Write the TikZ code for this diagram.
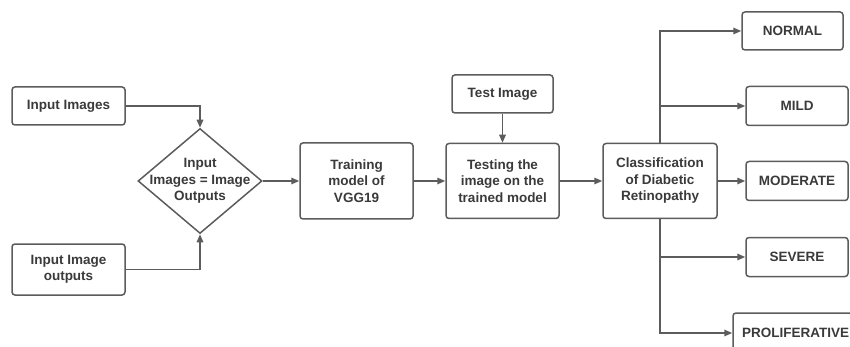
\documentclass[tikz,border=0pt]{standalone}
\usepackage{fontspec}
\setmainfont{Liberation Sans}
\usetikzlibrary{shapes.geometric,arrows.meta}
\definecolor{linegray}{HTML}{5C5C5C}
\definecolor{textgray}{HTML}{3A3A3A}

\begin{document}
\begin{tikzpicture}[x=1pt,y=-1pt,
    box/.style={draw=linegray,line width=1.5pt,rounded corners=3pt,align=center,
        text=textgray,font=\fontsize{13.5}{16.5}\selectfont\bfseries,inner sep=0pt},
    decision/.style={draw=linegray,line width=1.5pt,diamond,inner sep=0pt,
        minimum width=124pt,minimum height=105pt},
    flow/.style={draw=linegray,line width=1.5pt,-{Triangle[length=8pt,width=6.5pt]}}]
        \useasboundingbox (0,0) rectangle (850,347);
        \node[box,minimum width=113pt,minimum height=38pt] (inimg) at (68.5,106) {Input Images};
        \node[box,minimum width=113pt,minimum height=51pt] (inout) at (68.5,269.5) {Input Image\\outputs};
        \node[decision] (check) at (200,181) {};
        \node[box,draw=none] (checktext) at (check) {Input\\Images = Image\\Outputs};
        \node[box,minimum width=113pt,minimum height=76pt] (train) at (356.5,181) {Training\\model of\\VGG19};
        \node[box,minimum width=113pt,minimum height=75pt] (test) at (502.5,181) {Testing the\\image on the\\trained model};
        \node[box,minimum width=101pt,minimum height=38pt] (testimg) at (502.5,94) {Test Image};
        \node[box,minimum width=114pt,minimum height=75pt] (class) at (660,181) {Classification\\of Diabetic\\Retinopathy};
        \node[box,minimum width=101pt,minimum height=38pt] (normal) at (792.5,31) {NORMAL};
        \node[box,minimum width=102pt,minimum height=39pt] (mild) at (797,106) {MILD};
        \node[box,minimum width=102pt,minimum height=39pt] (moder) at (797,181) {MODERATE};
        \node[box,minimum width=102pt,minimum height=39pt] (severe) at (797,257) {SEVERE};
        \node[box,minimum width=125pt,minimum height=40pt] (prolif) at (795.5,333) {PROLIFERATIVE};
        \draw[flow] (inimg.east) -| (check.north);
        \draw[flow] (inout.east) -| (check.south);
        \draw[flow] (check.east) -- (train.west);
        \draw[flow] (train.east) -- (test.west);
        \draw[flow] (testimg.south) -- (test.north);
        \draw[flow] (test.east) -- (class.west);
        \draw[flow] (class.north) |- (normal.west);
        \draw[flow] (class.north |- mild.west) -- (mild.west);
        \draw[flow] (class.east) -- (moder.west);
        \draw[flow] (class.south |- severe.west) -- (severe.west);
        \draw[flow] (class.south) |- (prolif.west);
    \end{tikzpicture}
\end{document}
